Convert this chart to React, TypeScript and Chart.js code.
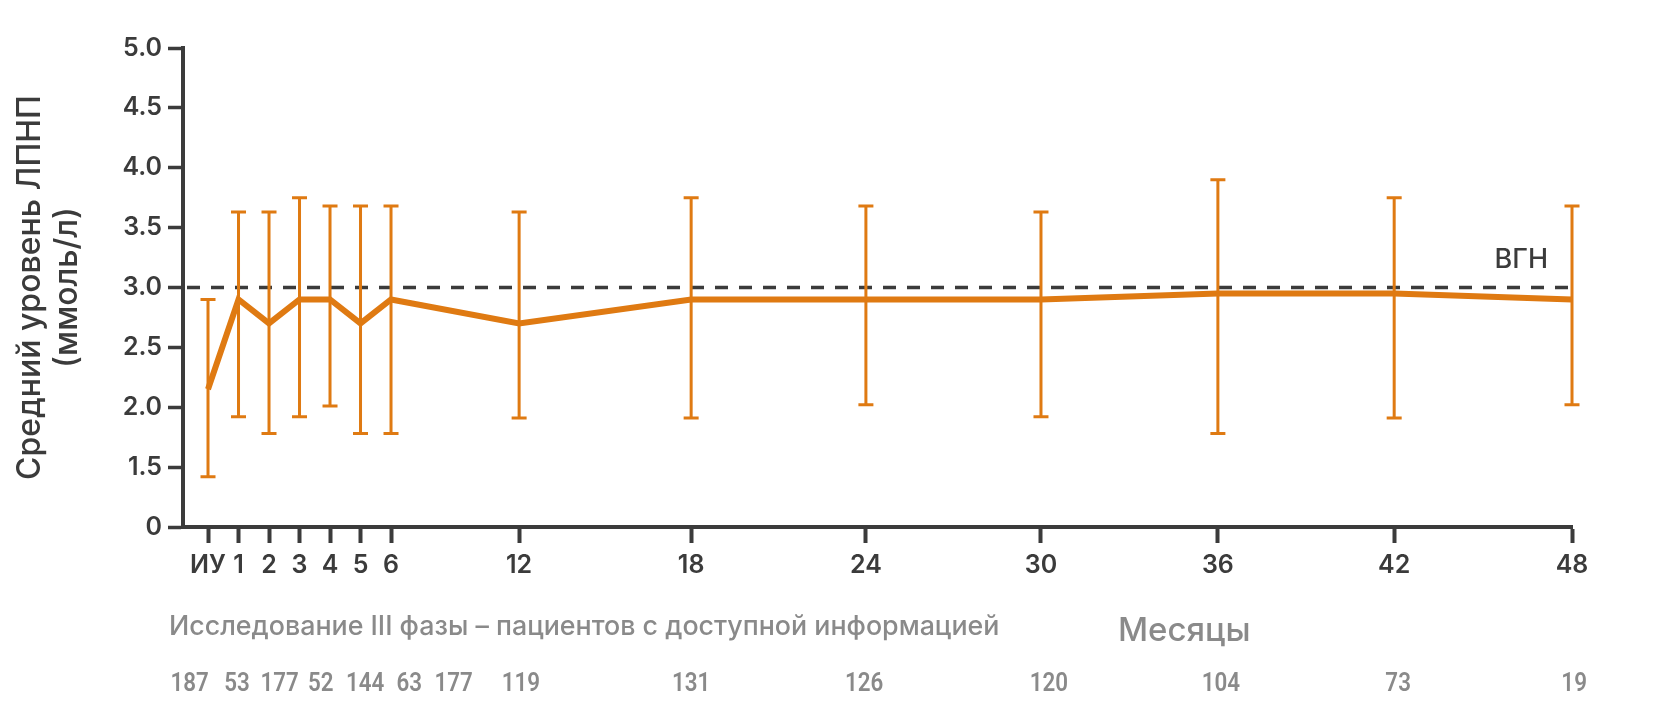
import { useEffect, useRef } from "react";
import { Chart, registerables } from "chart.js";

Chart.register(...registerables);

// Месяцы (подписи оси X) и их место на оси
const categories = ["ИУ", "1", "2", "3", "4", "5", "6", "12", "18", "24", "30", "36", "42", "48"];
const axisSlot = [0, 1, 2, 3, 4, 5, 6, 10.2, 15.84, 21.57, 27.31, 33.11, 38.89, 44.72];

// Средний уровень ЛПНП и границы разброса, ммоль/л
const meanLdl = [2.15, 2.9, 2.7, 2.9, 2.9, 2.7, 2.9, 2.7, 2.9, 2.9, 2.9, 2.95, 2.95, 2.9];
const upperLdl = [2.9, 3.63, 3.63, 3.75, 3.68, 3.68, 3.68, 3.63, 3.75, 3.68, 3.63, 3.9, 3.75, 3.68];
const lowerLdl = [1.42, 1.92, 1.78, 1.92, 2.01, 1.78, 1.78, 1.91, 1.91, 2.02, 1.92, 1.78, 1.91, 2.02];

// Число пациентов с доступной информацией
const patientCounts = [187, 53, 177, 52, 144, 63, 177, 119, 131, 126, 120, 104, 73, 19];
const countSlot = [-0.6, 0.95, 2.35, 3.7, 5.15, 6.6, 8.05, 10.26, 15.84, 21.51, 27.57, 33.21, 39.02, 44.79];

// Ось Y с разрывом: нижняя отметка подписана как 0
const yMin = 1;
const yMax = 5;
const yStep = 0.5;
const ulnValue = 3.0;
const ulnLabel = "ВГН";
const yTitle = ["Средний уровень ЛПНП", "(ммоль/л)"];
const studyNote = "Исследование III фазы – пациентов с доступной информацией";
const xTitle = "Месяцы";

const orange = "#DF7A12";
const dark = "#3b3b3b";
const grey = "#8a8a8a";

const overlayPlugin = {
  id: "overlay",
  beforeDatasetsDraw(chart: any) {
    const { ctx, chartArea, scales } = chart;
    const x = scales.x;
    const y = scales.y;
    const yy = y.getPixelForValue(ulnValue);
    ctx.save();
    // линия ВГН
    ctx.strokeStyle = dark;
    ctx.lineWidth = 3.5;
    ctx.setLineDash([13, 11]);
    ctx.beginPath();
    ctx.moveTo(chartArea.left + 4, yy);
    ctx.lineTo(chartArea.right, yy);
    ctx.stroke();
    ctx.setLineDash([]);
    ctx.font = "500 27px Inter";
    ctx.fillStyle = dark;
    ctx.textAlign = "right";
    ctx.textBaseline = "alphabetic";
    ctx.fillText(ulnLabel, chartArea.right - 24, yy - 20);

    // планки разброса
    ctx.strokeStyle = orange;
    ctx.lineWidth = 3;
    axisSlot.forEach((slot, i) => {
      const px = x.getPixelForValue(slot);
      const top = y.getPixelForValue(upperLdl[i]);
      const bot = y.getPixelForValue(lowerLdl[i]);
      ctx.beginPath();
      ctx.moveTo(px, top);
      ctx.lineTo(px, bot);
      ctx.moveTo(px - 7.5, top);
      ctx.lineTo(px + 7.5, top);
      ctx.moveTo(px - 7.5, bot);
      ctx.lineTo(px + 7.5, bot);
      ctx.stroke();
    });
    ctx.restore();
  },
  afterDraw(chart: any) {
    const { ctx, scales } = chart;
    const x = scales.x;
    ctx.save();
    ctx.fillStyle = grey;
    ctx.textBaseline = "alphabetic";
    ctx.textAlign = "left";
    ctx.font = "500 26.8px Inter";
    ctx.fillText(studyNote, 169, 635);
    ctx.font = "500 33px Inter";
    ctx.fillText(xTitle, 1118, 641);

    // узкие цифры: Roboto, сжатый по горизонтали
    ctx.textAlign = "center";
    ctx.font = "600 26px Roboto";
    patientCounts.forEach((n, i) => {
      const px = x.getPixelForValue(countSlot[i]);
      ctx.save();
      ctx.translate(px, 691);
      ctx.scale(0.86, 1);
      ctx.fillText(String(n), 0, 0);
      ctx.restore();
    });
    ctx.restore();
  },
};

const LdlChart = () => {
  const canvasRef = useRef<HTMLCanvasElement>(null);

  useEffect(() => {
    if (!canvasRef.current) return;
    Chart.defaults.font.family = "Inter";

    const chart = new Chart(canvasRef.current, {
      type: "line",
      data: {
        datasets: [
          {
            data: axisSlot.map((slot, i) => ({ x: slot, y: meanLdl[i] })),
            borderColor: orange,
            borderWidth: 6,
            borderJoinStyle: "miter",
            pointRadius: 0,
            tension: 0,
            fill: false,
          },
        ],
      },
      options: {
        animation: false,
        responsive: true,
        maintainAspectRatio: false,
        layout: { padding: { left: 0, top: 48, right: 83, bottom: 133 } },
        plugins: {
          legend: { display: false },
          tooltip: { enabled: false },
        },
        scales: {
          x: {
            type: "linear",
            min: -0.82,
            max: axisSlot[axisSlot.length - 1],
            afterBuildTicks: (scale: any) => {
              scale.ticks = axisSlot.map((v) => ({ value: v }));
            },
            afterFit: (scale: any) => {
              scale.height = 60;
            },
            grid: {
              drawOnChartArea: false,
              tickLength: 16,
              tickWidth: 4,
              color: dark,
            },
            border: { display: true, width: 4, color: dark },
            ticks: {
              autoSkip: false,
              maxRotation: 0,
              padding: 7,
              color: dark,
              font: { size: 25, weight: "600" },
              callback: (_v: any, i: number) => categories[i],
            },
          },
          y: {
            min: yMin,
            max: yMax,
            afterFit: (scale: any) => {
              scale.width = 183;
            },
            grid: {
              drawOnChartArea: false,
              tickLength: 15,
              tickWidth: 3.5,
              color: dark,
            },
            border: { display: true, width: 4, color: dark },
            ticks: {
              stepSize: yStep,
              padding: 6,
              color: dark,
              font: { size: 25, weight: "600" },
              callback: (v: any) => (Number(v) === yMin ? "0" : Number(v).toFixed(1)),
            },
            title: {
              display: true,
              text: yTitle,
              color: dark,
              font: { size: 32, weight: "500", lineHeight: 1.16 },
              padding: { top: 12, bottom: 0 },
            },
          },
        },
      },
      plugins: [overlayPlugin],
    });

    return () => {
      chart.destroy();
    };
  }, []);

  return <canvas ref={canvasRef}></canvas>;
};

export default function App() {
  return (
    <div style={{ position: "absolute", left: 0, top: 0, width: 1655, height: 720, background: "#fff" }}>
      <LdlChart />
    </div>
  );
}
